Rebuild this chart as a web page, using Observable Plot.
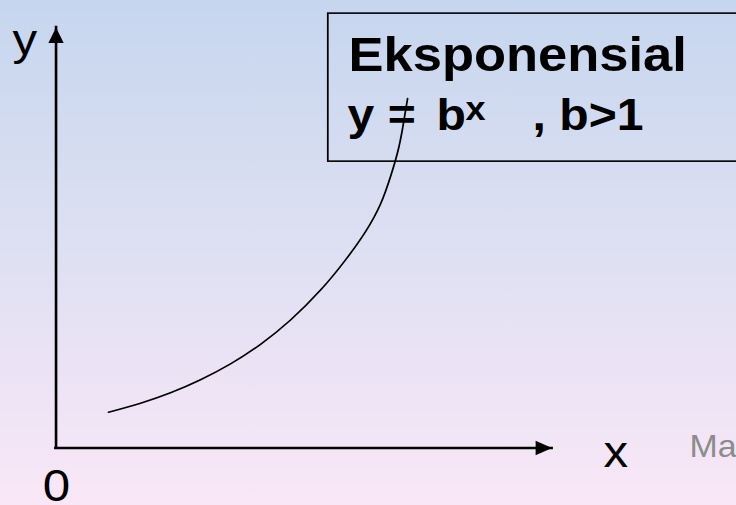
<!DOCTYPE html>
<html>
<head>
<meta charset="utf-8">
<script src="https://cdn.jsdelivr.net/npm/d3@7"></script>
<script src="https://cdn.jsdelivr.net/npm/@observablehq/plot@0.6"></script>
<style>
  html, body { margin: 0; padding: 0; }
  body { width: 736px; height: 505px; overflow: hidden;
         background: linear-gradient(to bottom, #c6d6ee 0%, #dcdff2 45%, #f9e7f7 100%); }
</style>
</head>
<body>
<div id="chart"></div>
<script>
// ---- data (chart units: origin at the axes corner, axes run 0..10) ----
const curveX = [1.058, 1.704, 2.308, 2.913, 3.518, 4.123, 4.728, 5.333, 5.837, 6.240, 6.542, 6.744, 6.885, 6.986, 7.087];
const curveY = [0.851, 1.066, 1.313, 1.624, 2.000, 2.466, 3.044, 3.755, 4.474, 5.146, 5.803, 6.457, 7.027, 7.598, 8.311];

const axisLabels = ["y", "x", "0"];
const axisLabelX = [-0.877, 11.038, -0.266];
const axisLabelY = [9.335, -0.457, -1.272];

const titleText = ["Eksponensial"];
const formulaParts = ["y =", "b", ", b>1"];
const formulaX = [5.877, 7.671, 9.607];
const superscript = ["x"];

const boxX1 = [5.49], boxX2 = [15], boxY1 = [6.81], boxY2 = [10.33];
const footer = ["Ma"];

// ---- build tables ----
const curve = curveX.map((x, i) => ({x, y: curveY[i]}));
const labels = axisLabels.map((t, i) => ({t, x: axisLabelX[i], y: axisLabelY[i]}));
const formula = formulaParts.map((t, i) => ({t, x: formulaX[i], y: 7.562}));
const box = boxX1.map((x1, i) => ({x1, x2: boxX2[i], y1: boxY1[i], y2: boxY2[i]}));

// arrowhead symbols (tip at the anchor point)
const headUp = {draw(ctx) { ctx.moveTo(0, 0); ctx.lineTo(-7, 15.5); ctx.lineTo(7, 15.5); ctx.closePath(); }};
const headRight = {draw(ctx) { ctx.moveTo(0, 0); ctx.lineTo(-15, -7.2); ctx.lineTo(-15, 7.2); ctx.closePath(); }};

const FONT = "'Liberation Sans', Arial, Helvetica, sans-serif";
const W = 673, H = 505, SX = 736 / W;

const svg = Plot.plot({
  width: W, height: H,
  marginLeft: 55.5 / SX, marginRight: W - 551.5 / SX,
  marginTop: 27, marginBottom: 57.5,
  x: {domain: [0, 10], axis: null},
  y: {domain: [0, 10], axis: null},
  style: {background: "transparent", overflow: "visible"},
  marks: [
    Plot.ruleY([0], {x1: 0, x2: 10, stroke: "black", strokeWidth: 2.6, strokeLinecap: "square"}),
    Plot.ruleX([0], {y1: 0, y2: 10, stroke: "black", strokeWidth: 2.4, strokeLinecap: "square"}),
    Plot.dot([{x: 0, y: 10}], {x: "x", y: "y", symbol: headUp, r: 6, fill: "black", stroke: "none"}),
    Plot.dot([{x: 10, y: 0}], {x: "x", y: "y", symbol: headRight, r: 6, fill: "black", stroke: "none"}),
    Plot.line(curve, {x: "x", y: "y", curve: "natural", stroke: "black", strokeWidth: 1.6}),
    Plot.rect(box, {x1: "x1", x2: "x2", y1: "y1", y2: "y2", fill: "none", stroke: "black", strokeWidth: 1.6}),
    Plot.text(titleText, {x: 5.897, y: 8.961, text: d => d, textAnchor: "start", lineAnchor: "bottom",
      fontSize: 48, fontWeight: "bold", fontFamily: FONT, fill: "black"}),
    Plot.text(formula, {x: "x", y: "y", text: "t", textAnchor: "start", lineAnchor: "bottom",
      fontSize: 44, fontWeight: "bold", fontFamily: FONT, fill: "black"}),
    Plot.text(superscript, {x: 8.256, y: 7.80, text: d => d, textAnchor: "start", lineAnchor: "bottom",
      fontSize: 33, fontWeight: "bold", fontFamily: FONT, fill: "black"}),
    Plot.text(labels, {x: "x", y: "y", text: "t", textAnchor: "start", lineAnchor: "bottom",
      fontSize: 45, fontFamily: FONT, fill: "black"}),
    Plot.text(footer, {x: 12.77, y: -0.219, text: d => d, textAnchor: "start", lineAnchor: "bottom",
      fontSize: 31, fontFamily: FONT, fill: "#8c8c8c"})
  ]
});

// the original slide is stretched horizontally; reproduce that aspect
svg.setAttribute("width", 736);
svg.setAttribute("preserveAspectRatio", "none");
svg.style.width = "736px";
svg.style.height = "505px";
svg.style.maxWidth = "none";
svg.style.display = "block";
document.getElementById("chart").appendChild(svg);
</script>
</body>
</html>
